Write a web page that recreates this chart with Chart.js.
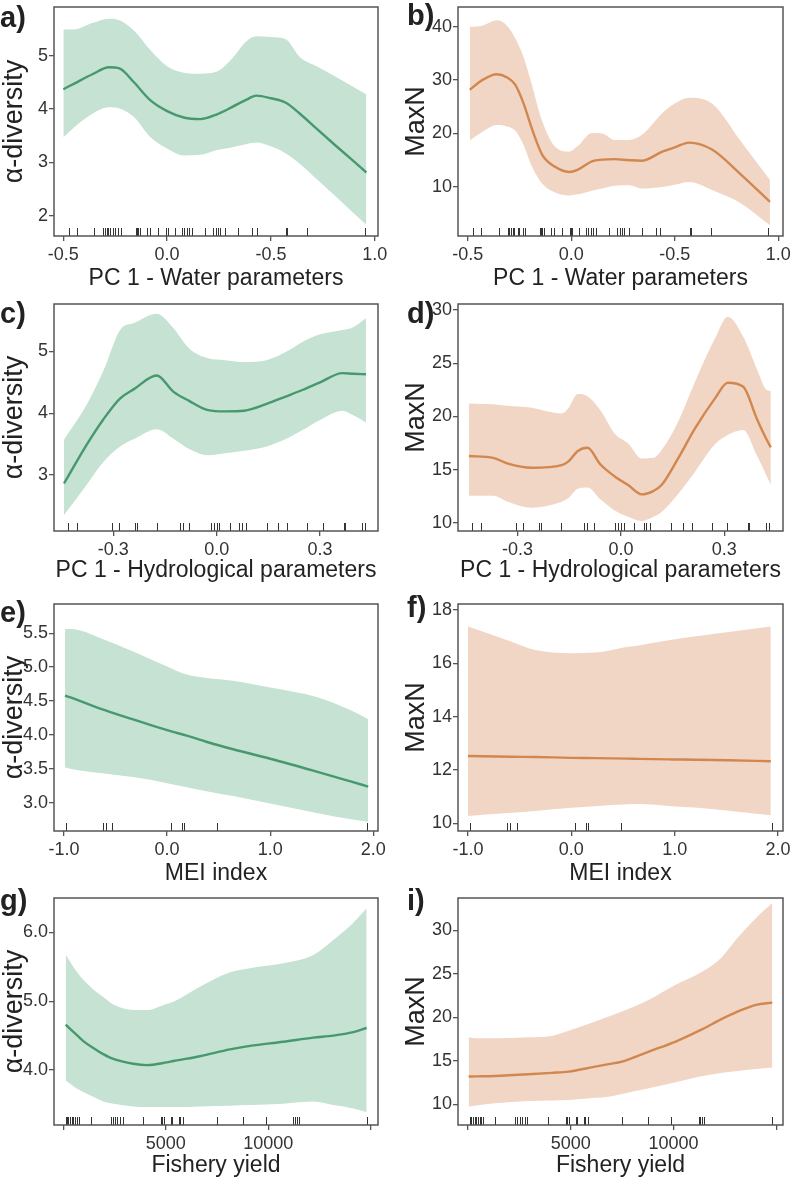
<!DOCTYPE html>
<html><head><meta charset="utf-8">
<script src="https://cdn.jsdelivr.net/npm/chart.js@4.4.1/dist/chart.umd.min.js"></script>
<style>
html,body{margin:0;padding:0;background:#fff;}
#wrap{position:relative;width:790px;height:1181px;overflow:hidden;background:#fff;}
#wrap canvas{position:absolute;}
</style></head><body><div id="wrap"></div>
<script>
// ---------- DATA ----------
// rug (observed x values)
const waterRug = [-0.473,-0.436,-0.351,-0.307,-0.299,-0.291,-0.283,-0.275,-0.259,-0.251,-0.235,-0.224,-0.150,-0.144,-0.139,-0.131,-0.099,-0.083,-0.043,-0.007,-0.003,0.005,0.037,0.070,0.081,0.094,0.106,0.118,0.182,0.222,0.235,0.246,0.257,0.278,0.342,0.411,0.431,0.572,0.578,0.674,0.952];
const hydroRug = [-0.431,-0.406,-0.305,-0.284,-0.237,-0.232,-0.174,-0.106,-0.099,-0.079,-0.017,-0.008,0.0,0.008,0.039,0.066,0.073,0.085,0.145,0.179,0.205,0.263,0.308,0.368,0.373,0.421,0.431];
const meiRug = [-0.98,-0.62,-0.59,-0.53,0.04,0.145,0.16,0.48,1.94];
const fisheryRug = [114,163,244,325,407,488,569,650,748,1333,2309,2406,2520,2634,2764,2894,3870,4764,4829,4911,5236,5317,5626,5691,5821,7480,8748,9886,11220,11285,11382,11496,14797];

// tick values and labels
const waterTicks = [-0.5,0,0.5,1.0];
const waterTickLabels = ["-0.5","0.0","-0.5","1.0"];
const hydroTicks = [-0.3,0,0.3];
const hydroTickLabels = ["-0.3","0.0","0.3"];
const meiTicks = [-1,0,1,2];
const meiTickLabels = ["-1.0","0.0","1.0","2.0"];
const fisheryTicks = [0,5000,10000,15000];
const fisheryTickLabels = ["","5000","10000",""];

const aYTicks = [2,3,4,5], aYLabels = ["2","3","4","5"];
const bYTicks = [10,20,30,40], bYLabels = ["10","20","30","40"];
const cYTicks = [3,4,5], cYLabels = ["3","4","5"];
const dYTicks = [10,15,20,25,30], dYLabels = ["10","15","20","25","30"];
const eYTicks = [3.0,3.5,4.0,4.5,5.0,5.5], eYLabels = ["3.0","3.5","4.0","4.5","5.0","5.5"];
const fYTicks = [10,12,14,16,18], fYLabels = ["10","12","14","16","18"];
const gYTicks = [4,5,6], gYLabels = ["4.0","5.0","6.0"];
const iYTicks = [10,15,20,25,30], iYLabels = ["10","15","20","25","30"];

// a) alpha-diversity ~ PC1 water
const aX     = [-0.5,-0.45,-0.36,-0.28,-0.23,-0.16,-0.08,0.0,0.08,0.16,0.24,0.31,0.38,0.43,0.5,0.57,0.64,0.72,0.81,0.89,0.96];
const aFit   = [4.37,4.47,4.65,4.78,4.76,4.50,4.16,3.96,3.84,3.81,3.90,4.03,4.17,4.25,4.20,4.12,3.91,3.63,3.32,3.05,2.81];
const aUpper = [5.49,5.49,5.61,5.69,5.66,5.47,5.10,4.80,4.68,4.66,4.70,4.93,5.26,5.36,5.35,5.31,4.97,4.80,4.61,4.43,4.27];
const aLower = [3.47,3.65,3.91,4.03,4.01,3.85,3.47,3.26,3.13,3.14,3.23,3.28,3.34,3.37,3.30,3.17,2.97,2.69,2.37,2.08,1.83];

// b) MaxN ~ PC1 water
const bX     = [-0.49,-0.43,-0.36,-0.31,-0.27,-0.23,-0.19,-0.14,-0.08,-0.01,0.03,0.1,0.15,0.21,0.28,0.34,0.44,0.5,0.57,0.68,0.82,0.96];
const bFit   = [28.2,30.0,31.1,30.5,29.1,25.6,20.9,16.0,13.8,12.8,13.2,14.8,15.1,15.2,15.0,14.9,16.6,17.4,18.3,17.0,12.3,7.2];
const bUpper = [40.0,40.2,41.2,40.2,37.8,34.3,29.1,22.3,17.6,16.6,17.6,20.1,20.0,18.8,18.8,19.7,23.8,25.6,26.7,25.6,18.5,11.3];
const bLower = [18.7,20.3,21.6,21.3,20.5,17.8,13.8,10.6,9.0,8.4,8.6,9.3,9.7,10.2,10.3,9.7,10.0,10.4,10.9,9.4,6.9,2.8];

// c) alpha-diversity ~ PC1 hydrological
const cX     = [-0.443,-0.377,-0.33,-0.28,-0.24,-0.174,-0.126,-0.08,-0.025,0.025,0.08,0.145,0.2,0.25,0.3,0.365,0.395,0.433];
const cFit   = [2.86,3.49,3.89,4.24,4.39,4.61,4.35,4.20,4.05,4.03,4.04,4.15,4.27,4.38,4.50,4.65,4.64,4.63];
const cUpper = [3.57,4.14,4.67,5.35,5.46,5.61,5.38,5.05,4.89,4.86,4.83,4.86,4.99,5.16,5.28,5.35,5.39,5.54];
const cLower = [2.35,2.84,3.20,3.46,3.58,3.74,3.59,3.42,3.32,3.35,3.39,3.46,3.58,3.73,3.89,4.04,3.97,3.85];

// d) MaxN ~ PC1 hydrological
const dX     = [-0.441,-0.37,-0.33,-0.259,-0.172,-0.153,-0.125,-0.097,-0.06,-0.017,0.021,0.06,0.095,0.118,0.166,0.215,0.273,0.31,0.355,0.394,0.423,0.435];
const dFit   = [16.27,16.1,15.58,15.17,15.42,15.74,16.75,17.05,15.5,14.33,13.54,12.66,13.0,13.54,16.05,18.87,21.69,23.17,22.79,19.81,17.8,17.08];
const dUpper = [21.22,21.13,21.0,20.82,20.28,20.75,22.1,21.9,20.6,18.34,17.46,16.05,16.1,16.83,19.5,23.26,27.34,29.37,27.49,24.51,22.48,22.38];
const dLower = [12.54,12.54,12.0,11.41,11.98,12.29,13.2,13.3,12.2,11.13,10.55,10.16,10.55,11.0,12.7,14.8,17.37,18.25,18.71,16.36,14.4,13.54];

// e) alpha-diversity ~ MEI
const eX     = [-0.99,-0.93,-0.65,-0.33,0,0.19,0.38,0.64,1.0,1.45,1.77,1.95];
const eFit   = [4.58,4.55,4.39,4.23,4.07,3.99,3.90,3.79,3.65,3.46,3.32,3.24];
const eUpper = [5.56,5.56,5.43,5.23,5.01,4.89,4.84,4.80,4.70,4.56,4.37,4.23];
const eLower = [3.52,3.50,3.44,3.38,3.29,3.23,3.17,3.10,2.99,2.85,2.76,2.72];

// f) MaxN ~ MEI
const fX     = [-1.0,-0.58,-0.35,0.0,0.23,0.55,0.65,0.97,1.19,1.52,1.93];
const fFit   = [12.53,12.50,12.49,12.46,12.45,12.43,12.42,12.40,12.39,12.37,12.33];
const fUpper = [17.38,16.81,16.50,16.38,16.40,16.62,16.67,16.88,17.0,17.17,17.38];
const fLower = [10.28,10.40,10.47,10.59,10.65,10.72,10.73,10.65,10.60,10.48,10.31];

// g) alpha-diversity ~ fishery yield
const gX     = [114,650,976,1463,1951,2439,3415,4065,5041,5366,6667,8130,9106,10732,12195,13171,14146,14797];
const gFit   = [4.66,4.51,4.42,4.32,4.23,4.16,4.09,4.07,4.11,4.13,4.20,4.30,4.35,4.41,4.47,4.50,4.55,4.61];
const gUpper = [5.68,5.43,5.31,5.17,5.06,4.95,4.87,4.87,4.96,4.99,5.21,5.42,5.48,5.55,5.67,5.89,6.14,6.35];
const gLower = [3.85,3.73,3.68,3.61,3.54,3.51,3.47,3.46,3.46,3.46,3.47,3.48,3.49,3.51,3.54,3.49,3.44,3.39];

// i) MaxN ~ fishery yield
const iX     = [33,407,1303,2932,4073,4887,6190,6842,7493,8797,10100,11403,12299,13032,14009,14800];
const iFit   = [13.19,13.21,13.26,13.45,13.62,13.76,14.34,14.62,14.91,16.07,17.22,18.64,19.77,20.58,21.44,21.7];
const iUpper = [17.72,17.6,17.6,17.72,17.87,18.45,19.52,20.1,20.67,22.02,23.74,25.28,26.81,28.93,31.42,33.15];
const iLower = [9.73,9.85,10.12,10.38,10.45,10.5,10.75,10.88,11.2,11.84,12.55,13.25,13.6,13.8,14.05,14.22];

// ---------- STYLE / LAYOUT ----------
const FONT = '"Liberation Sans", Arial, Helvetica, sans-serif';
const GREEN_LINE = '#47996d', GREEN_FILL = '#c5e2d3';
const ORANGE_LINE = '#d2874f', ORANGE_FILL = '#f1d6c6';

const COLS = [
  {left:0,   yAxisW:54, padRight:17, letterX:0,  yTitlePad:1},
  {left:395, yAxisW:63, padRight:7,  letterX:12, yTitlePad:8}
];
const ROWS = [
  {top:0,   h:290, padTop:7,  xAxisH:54, xTitlePad:0},
  {top:290, h:295, padTop:14, xAxisH:54, xTitlePad:2.5},
  {top:585, h:300, padTop:19, xAxisH:54, xTitlePad:0},
  {top:885, h:296, padTop:13, xAxisH:56, xTitlePad:3.5}
];

const framePlugin = {
  id:'frame',
  afterDraw(chart){
    const {ctx, chartArea:a} = chart;
    ctx.save(); ctx.strokeStyle='#555'; ctx.lineWidth=1.5;
    ctx.strokeRect(a.left, a.top, a.right-a.left, a.bottom-a.top);
    ctx.restore();
  }
};
const rugPlugin = {
  id:'rug',
  afterDatasetsDraw(chart, args, opts){
    const xs = chart.scales.x, a = chart.chartArea, ctx = chart.ctx;
    ctx.save(); ctx.strokeStyle='#333'; ctx.lineWidth=1;
    for (const v of opts.values){
      const px = Math.round(xs.getPixelForValue(v))+0.5;
      ctx.beginPath(); ctx.moveTo(px, a.bottom); ctx.lineTo(px, a.bottom-8); ctx.stroke();
    }
    ctx.restore();
  }
};
const letterPlugin = {
  id:'letter',
  afterDraw(chart, args, opts){
    const ctx = chart.ctx;
    ctx.save(); ctx.font = 'bold 29px '+FONT; ctx.fillStyle='#222';
    ctx.textBaseline='alphabetic'; ctx.textAlign='left';
    ctx.fillText(opts.text, opts.x, opts.y);
    ctx.restore();
  }
};

const wrap = document.getElementById('wrap');
function pts(xs, ys){ return xs.map((x,i)=>({x:x, y:ys[i]})); }

function panel(p){
  const col = COLS[p.col], row = ROWS[p.row];
  const cv = document.createElement('canvas');
  cv.width = 395; cv.height = row.h;
  cv.style.left = col.left+'px'; cv.style.top = row.top+'px';
  cv.style.width = '395px'; cv.style.height = row.h+'px';
  wrap.appendChild(cv);
  new Chart(cv, {
    type:'line',
    data:{datasets:[
      {data:pts(p.x,p.fit), borderColor:p.line, borderWidth:2.4, pointRadius:0, fill:false, cubicInterpolationMode:'monotone'},
      {data:pts(p.x,p.upper), borderColor:'rgba(0,0,0,0)', borderWidth:0, backgroundColor:p.fill, fill:'+1', pointRadius:0, cubicInterpolationMode:'monotone'},
      {data:pts(p.x,p.lower), borderColor:'rgba(0,0,0,0)', borderWidth:0, pointRadius:0, fill:false, cubicInterpolationMode:'monotone'}
    ]},
    options:{
      responsive:false, animation:false, devicePixelRatio:1,
      layout:{padding:{left:0, right:col.padRight, top:row.padTop, bottom:0}},
      plugins:{legend:{display:false}, tooltip:{enabled:false},
        rug:{values:p.rug}, letter:{text:p.letter, x:col.letterX, y:p.letterY}},
      scales:{
        x:{type:'linear', min:p.xMin, max:p.xMax,
          afterBuildTicks:s=>{ s.ticks = p.xTicks.map(v=>({value:v})); },
          ticks:{callback:(v,i)=>p.xLabels[i], autoSkip:false, maxRotation:0, minRotation:0,
            font:{family:FONT,size:18}, color:'#333', padding:3},
          grid:{display:true, drawOnChartArea:false, drawTicks:true, tickLength:5, color:'#555', lineWidth:1.3},
          border:{display:false},
          title:{display:true, text:p.xTitle, color:'#222', font:{family:FONT,size:23,lineHeight:1}, padding:{top:0,bottom:row.xTitlePad}},
          afterFit:s=>{ s.height = row.xAxisH; s.paddingLeft=0; s.paddingRight=0; }
        },
        y:{type:'linear', min:p.yMin, max:p.yMax,
          afterBuildTicks:s=>{ s.ticks = p.yTicks.map(v=>({value:v})); },
          ticks:{callback:(v,i)=>p.yLabels[i], autoSkip:false,
            font:{family:FONT,size:18}, color:'#333', padding:1},
          grid:{display:true, drawOnChartArea:false, drawTicks:true, tickLength:5, color:'#555', lineWidth:1.3},
          border:{display:false},
          title:{display:true, text:p.yTitle, color:'#222', font:{family:FONT,size:27,lineHeight:1}, padding:{top:col.yTitlePad,bottom:0}},
          afterFit:s=>{ s.width = col.yAxisW; s.paddingTop=0; s.paddingBottom=0; }
        }
      }
    },
    plugins:[framePlugin, rugPlugin, letterPlugin]
  });
}

const A = 'α-diversity', M = 'MaxN';
const PW = 'PC 1 - Water parameters', PH = 'PC 1 - Hydrological parameters';
panel({col:0,row:0,letter:'a)',letterY:27,x:aX,fit:aFit,upper:aUpper,lower:aLower,line:GREEN_LINE,fill:GREEN_FILL,rug:waterRug,
  xMin:-0.545,xMax:1.016,xTicks:waterTicks,xLabels:waterTickLabels,yMin:1.62,yMax:5.91,yTicks:aYTicks,yLabels:aYLabels,xTitle:PW,yTitle:A});
panel({col:1,row:0,letter:'b)',letterY:25,x:bX,fit:bFit,upper:bUpper,lower:bLower,line:ORANGE_LINE,fill:ORANGE_FILL,rug:waterRug,
  xMin:-0.547,xMax:1.023,xTicks:waterTicks,xLabels:waterTickLabels,yMin:0.8,yMax:43.7,yTicks:bYTicks,yLabels:bYLabels,xTitle:PW,yTitle:M});
panel({col:0,row:1,letter:'c)',letterY:33,x:cX,fit:cFit,upper:cUpper,lower:cLower,line:GREEN_LINE,fill:GREEN_FILL,rug:hydroRug,
  xMin:-0.472,xMax:0.468,xTicks:hydroTicks,xLabels:hydroTickLabels,yMin:2.09,yMax:5.77,yTicks:cYTicks,yLabels:cYLabels,xTitle:PH,yTitle:A});
panel({col:1,row:1,letter:'d)',letterY:33,x:dX,fit:dFit,upper:dUpper,lower:dLower,line:ORANGE_LINE,fill:ORANGE_FILL,rug:hydroRug,
  xMin:-0.4727,xMax:0.4703,xTicks:hydroTicks,xLabels:hydroTickLabels,yMin:9.22,yMax:30.57,yTicks:dYTicks,yLabels:dYLabels,xTitle:PH,yTitle:M});
panel({col:0,row:2,letter:'e)',letterY:37,x:eX,fit:eFit,upper:eUpper,lower:eLower,line:GREEN_LINE,fill:GREEN_FILL,rug:meiRug,
  xMin:-1.097,xMax:2.045,xTicks:meiTicks,xLabels:meiTickLabels,yMin:2.585,yMax:5.93,yTicks:eYTicks,yLabels:eYLabels,xTitle:'MEI index',yTitle:A});
panel({col:1,row:2,letter:'f)',letterY:32,x:fX,fit:fFit,upper:fUpper,lower:fLower,line:ORANGE_LINE,fill:ORANGE_FILL,rug:meiRug,
  xMin:-1.097,xMax:2.048,xTicks:meiTicks,xLabels:meiTickLabels,yMin:9.72,yMax:18.22,yTicks:fYTicks,yLabels:fYLabels,xTitle:'MEI index',yTitle:M});
panel({col:0,row:3,letter:'g)',letterY:25,x:gX,fit:gFit,upper:gUpper,lower:gLower,line:GREEN_LINE,fill:GREEN_FILL,rug:fisheryRug,
  xMin:-454,xMax:15351,xTicks:fisheryTicks,xLabels:fisheryTickLabels,yMin:3.20,yMax:6.50,yTicks:gYTicks,yLabels:gYLabels,xTitle:'Fishery yield',yTitle:A});
panel({col:1,row:3,letter:'i)',letterY:25,x:iX,fit:iFit,upper:iUpper,lower:iLower,line:ORANGE_LINE,fill:ORANGE_FILL,rug:fisheryRug,
  xMin:-486,xMax:15321,xTicks:fisheryTicks,xLabels:fisheryTickLabels,yMin:7.62,yMax:33.73,yTicks:iYTicks,yLabels:iYLabels,xTitle:'Fishery yield',yTitle:M});
</script>
</body></html>
